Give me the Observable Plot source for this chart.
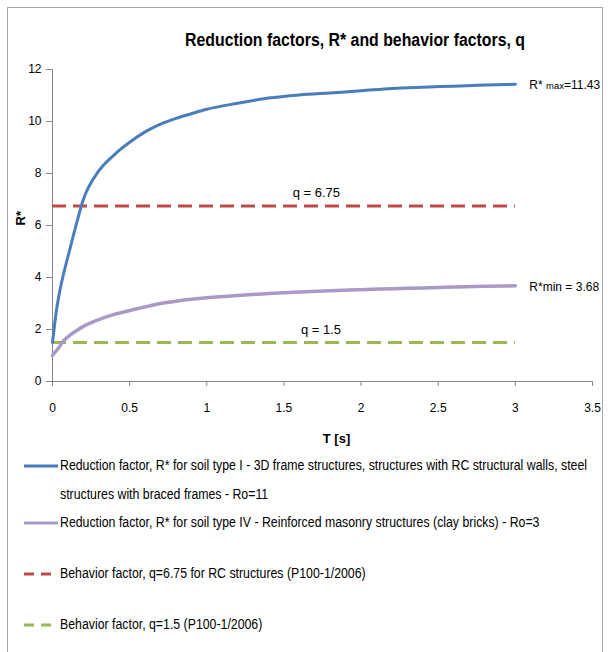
<!DOCTYPE html>
<html><head><meta charset="utf-8">
<script src="https://cdn.jsdelivr.net/npm/d3@7"></script>
<script src="https://cdn.jsdelivr.net/npm/@observablehq/plot@0.6"></script>
<style>
body{margin:0;background:#fff;}
#wrap{position:relative;width:608px;height:652px;overflow:hidden;font-family:"Liberation Sans",Arial,sans-serif;color:#000;}
#frame{position:absolute;left:7px;top:7px;width:596px;height:700px;border:1px solid #a6a6a6;box-sizing:border-box;}
#title{position:absolute;top:30px;left:0;white-space:nowrap;font-weight:bold;font-size:18px;transform-origin:0 0;}
#chart{position:absolute;left:0;top:0;}
.leg{position:absolute;white-space:nowrap;font-size:14px;line-height:29px;}
.legtxt{transform-origin:0 0;display:inline-block;}
.leg svg{position:absolute;left:-36px;top:13px;}
</style></head>
<body><div id="wrap"><div id="frame"></div><div id="title">Reduction factors, R* and behavior factors, q</div><div id="chart"></div></div>
<script>
const T      = [0,0.01,0.02,0.04,0.07,0.1,0.15,0.2,0.3,0.4,0.5,0.6,0.7,0.8,0.9,1.0,1.2,1.4,1.6,1.8,2.0,2.2,2.4,2.6,2.8,3.0];
const rSoilI = [1.5,2.0,2.5,3.25,4.1,4.8,5.95,7.0,8.1,8.72,9.2,9.6,9.9,10.12,10.3,10.47,10.7,10.9,11.02,11.1,11.18,11.27,11.32,11.36,11.4,11.43];
const rSoilIV= [1.0,1.08,1.15,1.3,1.55,1.72,1.93,2.12,2.38,2.58,2.73,2.87,3.0,3.09,3.16,3.22,3.31,3.38,3.44,3.49,3.53,3.57,3.6,3.63,3.66,3.68];
const qRC = 6.75, qMas = 1.5;
const qRange = [0, 3];
const xTicks = [0,0.5,1,1.5,2,2.5,3,3.5];
const yTicks = [0,2,4,6,8,10,12];
const seriesNames = [
  "Reduction factor, R* for soil type I - 3D frame structures, structures with RC structural walls, steel",
  "Reduction factor, R* for soil type IV - Reinforced masonry structures  (clay bricks) - Ro=3",
  "Behavior factor, q=6.75 for RC structures (P100-1/2006)",
  "Behavior factor, q=1.5 (P100-1/2006)"
];
const seriesName1b = "structures with  braced frames - Ro=11";
const colors = ["#4a7ebb","#a899c6","#be4b48","#98b954"];
const labels = [
  {x:3, y:11.43, text:"R* max=11.43"},
  {x:3, y:3.68, text:"R*min = 3.68"}
];
const qLabels = [
  {x:1.71, y:qRC, text:"q = 6.75"},
  {x:1.74, y:qMas, text:"q = 1.5"}
];

const d1 = T.map((t,i)=>({t, v:rSoilI[i]}));
const d2 = T.map((t,i)=>({t, v:rSoilIV[i]}));
const font = '"Liberation Sans",Arial,sans-serif';

const plot = Plot.plot({
  width:608, height:460,
  marginLeft:52, marginRight:16, marginTop:69, marginBottom:79,
  style:{fontFamily:font, fontSize:"12px", color:"#000", background:"transparent", overflow:"visible"},
  x:{domain:[0,3.5]},
  y:{domain:[0,12]},
  marks:[
    Plot.axisX({ticks:xTicks, tickSize:5, tickPadding:17, label:null, stroke:"#868686", tickFormat:d=>String(d)}),
    Plot.axisY({ticks:yTicks, tickSize:6, tickPadding:5, label:null, stroke:"#868686"}),
    Plot.ruleX([0],{stroke:"#868686"}),
    Plot.ruleY([0],{stroke:"#868686"}),
    Plot.ruleY([qRC],{x1:qRange[0], x2:qRange[1], stroke:colors[2], strokeWidth:3, strokeDasharray:"14,7"}),
    Plot.ruleY([qMas],{x1:qRange[0], x2:qRange[1], stroke:colors[3], strokeWidth:3, strokeDasharray:"14,7"}),
    Plot.line(d2,{x:"t", y:"v", stroke:colors[1], strokeWidth:3.5, curve:"monotone-x"}),
    Plot.line(d1,{x:"t", y:"v", stroke:colors[0], strokeWidth:3, curve:"monotone-x"}),
    Plot.text(qLabels,{x:"x", y:"y", text:"text", dy:-13, fontSize:13}),
    Plot.text(labels,{x:"x", y:"y", text:"text", dx:14, dy:1, textAnchor:"start", fontSize:12, className:"endlab"}),
    Plot.text(["T [s]"],{frameAnchor:"bottom", dx:14, dy:61, fontWeight:"bold", fontSize:13}),
    Plot.text(["R*"],{frameAnchor:"left", dx:-32, rotate:-90, fontWeight:"bold", fontSize:13})
  ]
});
document.getElementById("chart").appendChild(plot);
// smaller "max" as in reference
d3.select(plot).selectAll("g.endlab text").each(function(){
  const s = this.textContent;
  if (s.indexOf("max")>=0){
    const el = d3.select(this); el.text("");
    el.append("tspan").text("R* ");
    el.append("tspan").attr("font-size","9.5px").text("max");
    el.append("tspan").text(s.slice(s.indexOf("max")+3));
  }
});

// title: narrow it to the reference's width, centred at x=355
const title = document.getElementById("title");
const tw = title.getBoundingClientRect().width;
const tScale = 340 / tw;
title.style.left = (355 - 170) + "px";
title.style.transform = `scaleX(${tScale})`;

// legend
const wrap = document.getElementById("wrap");
const legY = [451, 508, 559, 610];
const spans = [];
seriesNames.forEach((name,i)=>{
  const div = document.createElement("div");
  div.className = "leg";
  div.style.left = "60px"; div.style.top = legY[i]+"px";
  const dashed = i>=2;
  div.innerHTML = `<svg width="35" height="4"><line x1="0" x2="34" y1="2" y2="2" stroke="${colors[i]}" stroke-width="3" ${dashed?'stroke-dasharray="10,7"':''}/></svg>`;
  const sp = document.createElement("span"); sp.className="legtxt"; sp.textContent = name;
  div.appendChild(sp); spans.push(sp);
  if(i===0){
    const br = document.createElement("div");
    const sp2 = document.createElement("span"); sp2.className="legtxt"; sp2.textContent = seriesName1b;
    br.appendChild(sp2); spans.push(sp2);
    div.appendChild(br);
  }
  wrap.appendChild(div);
});
const lScale = 527 / spans[0].getBoundingClientRect().width;
spans.forEach(s=> s.style.transform = `scaleX(${lScale})`);
</script></body></html>
